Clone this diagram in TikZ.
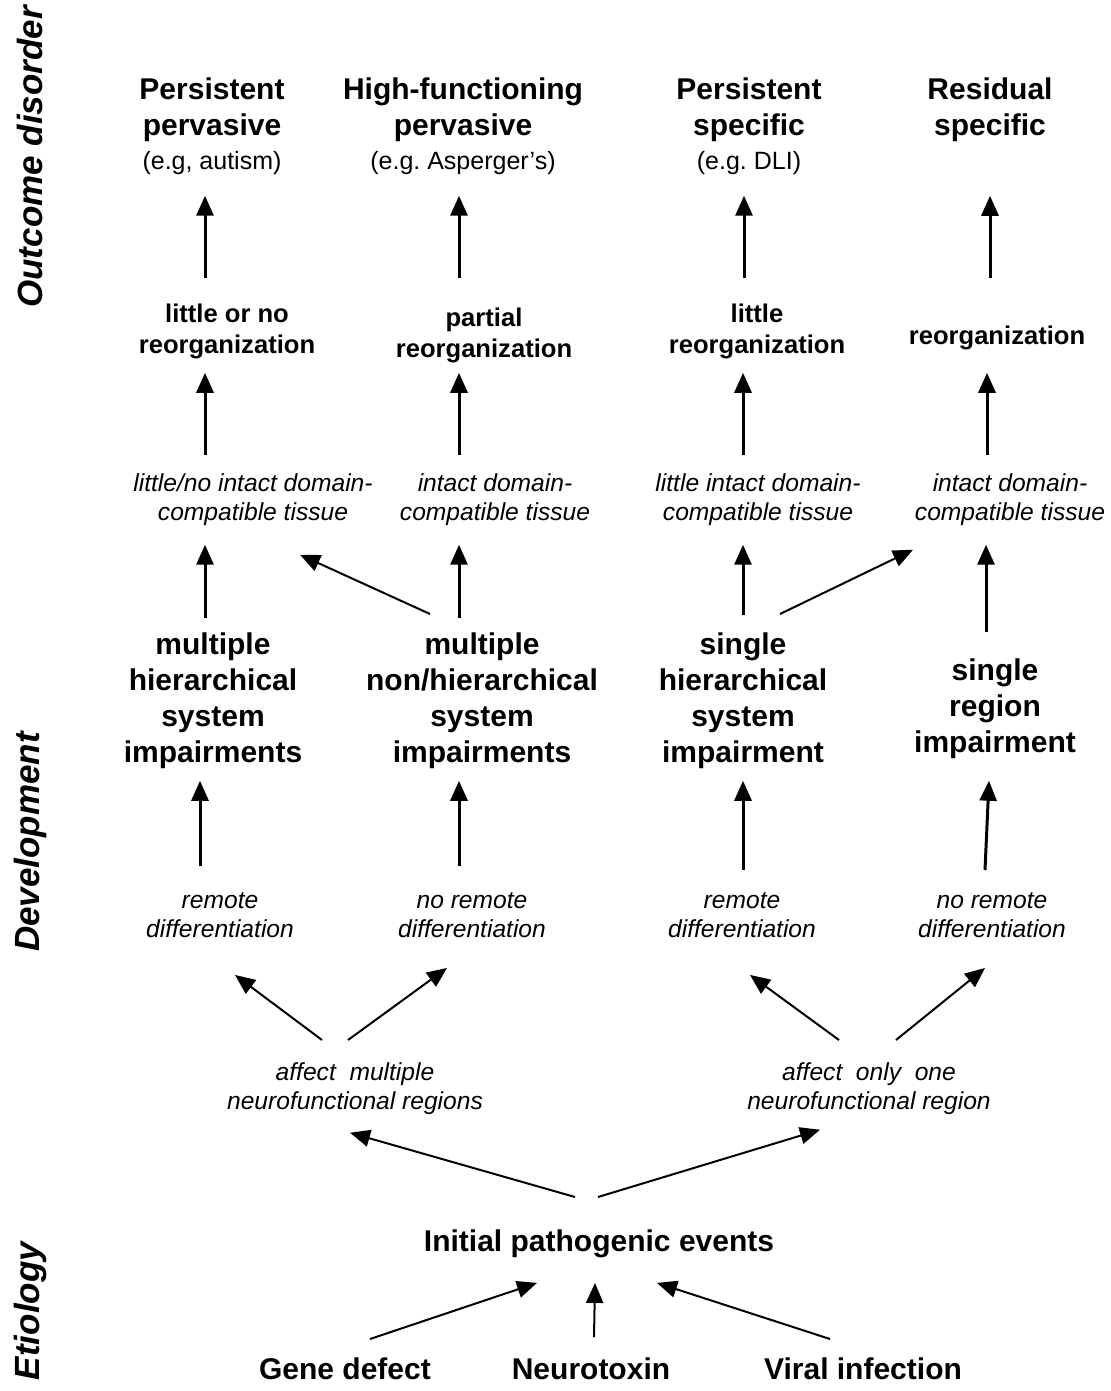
\documentclass[tikz,border=0pt]{standalone}
\usepackage{fontspec}
\setmainfont{Liberation Sans}
\usetikzlibrary{arrows.meta,calc,positioning}
\frenchspacing
\newcommand{\exnote}[1]{{\mdseries\fontsize{12.5}{15}\selectfont #1}}
\tikzset{outcome/.style={font=\bfseries\fontsize{15}{18}\selectfont, align=center, inner sep=0pt, anchor=north},
  reorg/.style={font=\bfseries\fontsize{12.8}{15.5}\selectfont, align=center, inner sep=0pt, anchor=north},
  route/.style={font=\itshape\fontsize{12.3}{14.5}\selectfont, align=center, inner sep=0pt, anchor=north},
  axis/.style={font=\bfseries\itshape\fontsize{17.5}{20}\selectfont, rotate=90, inner sep=0pt},
  up/.style={line width=1.5pt},
  slant/.style={line width=1pt}}

\begin{document}
\begin{tikzpicture}[x=0.5pt, y=-0.5pt, >={Triangle[length=10pt,width=8.5pt]}]
\useasboundingbox (0,0) rectangle (1111,1391);
% stage labels on the left
\node[axis] (ax1) at (30,157) {Outcome disorder};
\node[axis] (ax2) at (30,842) {Development};
\node[axis] (ax3) at (30,1311) {Etiology};
% outcome disorders
\node[outcome] (t1) at (212,77) {Persistent\\pervasive\\[-1pt]\exnote{(e.g, autism)}};
\node[outcome] (t2) at (463,77) {High-functioning\\pervasive\\[-1pt]\exnote{(e.g. Asperger's)}};
\node[outcome] (t3) at (749,77) {Persistent\\specific\\[-1pt]\exnote{(e.g. DLI)}};
\node[outcome] (t4) at (990,77) {Residual\\specific};
% reorganization
\node[reorg] (r2a) at (227,304) {little or no\\reorganization};
\node[reorg] (r2b) at (484,308) {partial\\reorganization};
\node[reorg] (r2c) at (757,304) {little\\reorganization};
\node[reorg] (r2d) at (997,326) {reorganization};
% tissue
\node[route] (r3a) at (253,473) {little/no intact domain-\\compatible tissue};
\node[route] (r3b) at (495,473) {intact domain-\\compatible tissue};
\node[route] (r3c) at (758,473) {little intact domain-\\compatible tissue};
\node[route] (r3d) at (1010,473) {intact domain-\\compatible tissue};
% impairments
\node[outcome] (r4a) at (213,632) {multiple\\hierarchical\\system\\impairments};
\node[outcome] (r4b) at (482,632) {multiple\\non/hierarchical\\system\\impairments};
\node[outcome] (r4c) at (743,632) {single\\hierarchical\\system\\impairment};
\node[outcome] (r4d) at (995,658) {single\\region\\impairment};
% differentiation
\node[route] (r5a) at (220,892) {remote\\differentiation};
\node[route] (r5b) at (472,892) {no remote\\differentiation};
\node[route] (r5c) at (742,892) {remote\\differentiation};
\node[route] (r5d) at (992,892) {no remote\\differentiation};
% regions
\node[route] (r6a) at (355,1062) {affect\ \ multiple\\neurofunctional regions};
\node[route] (r6b) at (869,1062) {affect\ \ only\ \ one\\neurofunctional region};
% etiology
\node[outcome] (init) at (599,1229) {Initial pathogenic events};
\node[outcome] (g1) at (345,1357) {Gene defect};
\node[outcome] (g2) at (591,1357) {Neurotoxin};
\node[outcome] (g3) at (863,1357) {Viral infection};

\path[->, up] ($(r2a.north)+(-22,-26)$) edge ($(t1.south)+(-7,21)$)
  ($(r2b.north)+(-25,-30)$) edge ($(t2.south)+(-4,21)$)
  ($(r2c.north)+(-13,-26)$) edge ($(t3.south)+(-5,21)$)
  ($(r2d.north)+(-7,-48)$) edge ($(t4.south)+(0,54)$);
\path[->, up] ($(r3a.north)+(-48,-18)$) edge ($(r2a.south)+(-22,13)$)
  ($(r3b.north)+(-36,-18)$) edge ($(r2b.south)+(-25,9)$)
  ($(r3c.north)+(-15,-18)$) edge ($(r2c.south)+(-14,13)$)
  ($(r3d.north)+(-23,-18)$) edge ($(r2d.south)+(-10,22)$);
\path[->, up] ($(r4a.north)+(-8,-14)$) edge ($(r3a.south)+(-48,19)$)
  ($(r4b.north)+(-23,-14)$) edge ($(r3b.south)+(-36,19)$)
  ($(r4c.north)+(0,-17)$) edge ($(r3c.south)+(-15,19)$)
  ($(r4d.north)+(-9,-26)$) edge ($(r3d.south)+(-24,19)$);
\path[->, slant] ($(r4b.north)+(-52,-18)$) edge ($(r3a.south)+(47,29)$)
  ($(r4c.north)+(37,-18)$) edge ($(r3d.south)+(-97,24)$);
\path[->, up] ($(r5a.north)+(-20,-26)$) edge ($(r4a.south)+(-13,12)$)
  ($(r5b.north)+(-13,-26)$) edge ($(r4b.south)+(-23,12)$)
  ($(r5c.north)+(1,-22)$) edge ($(r4c.south)+(0,12)$)
  ($(r5d.north)+(-7,-22)$) edge ($(r4d.south)+(-6,22)$);
\path[->, slant] ($(r6a.north)+(-33,-22)$) edge ($(r5a.south)+(15,37)$)
  ($(r6a.north)+(-7,-22)$) edge ($(r5b.south)+(-25,30)$)
  ($(r6b.north)+(-30,-22)$) edge ($(r5c.south)+(8,37)$)
  ($(r6b.north)+(27,-22)$) edge ($(r5d.south)+(-7,30)$);
\path[->, slant] ($(init.north)+(-24,-32)$) edge ($(r6a.south)+(-5,18)$)
  ($(init.north)+(-1,-32)$) edge ($(r6b.south)+(-49,15)$);
\path[->, slant] ($(g1.north)+(25,-18)$) edge ($(init.south)+(-62,25)$)
  ($(g2.north)+(3,-20)$) edge ($(init.south)+(-4,25)$)
  ($(g3.north)+(-33,-18)$) edge ($(init.south)+(58,25)$);
\end{tikzpicture}
\end{document}
